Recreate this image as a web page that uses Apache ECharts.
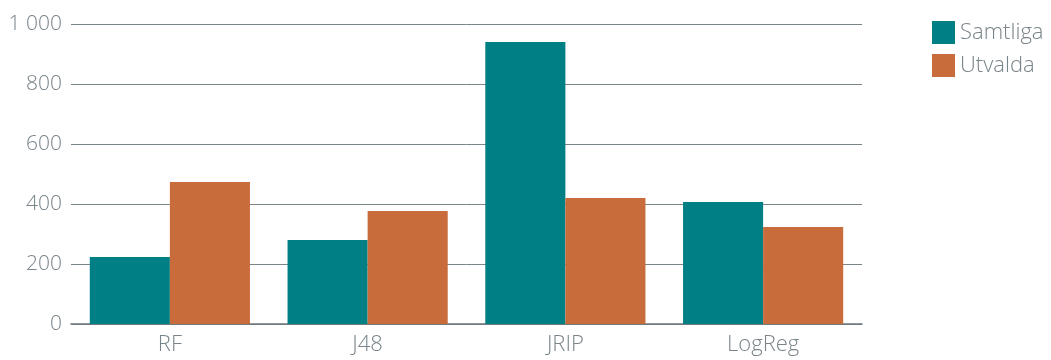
<!DOCTYPE html>
<html>
<head>
<meta charset="utf-8">
<script src="https://cdn.jsdelivr.net/npm/echarts@6/dist/echarts.min.js"></script>
<style>
  html, body { margin: 0; padding: 0; background: #fff; }
  #chart { width: 1051px; height: 360px; }
</style>
</head>
<body>
<div id="chart"></div>
<script>
const categories = ['RF', 'J48', 'JRIP', 'LogReg'];
const samtliga = [223, 280, 940, 407];
const utvalda = [473, 377, 420, 323];
const yTicks = [0, 200, 400, 600, 800, 1000];

const textColor = '#78848a';
const font = 'Open Sans';

const chart = echarts.init(document.getElementById('chart'));
chart.setOption({
  animation: false,
  textStyle: { fontFamily: font },
  grid: { left: 71, right: 189, top: 24, bottom: 36 },
  legend: {
    orient: 'vertical',
    left: 927,
    top: 16,
    itemWidth: 23,
    itemHeight: 23,
    itemGap: 10,
    icon: 'rect',
    textStyle: { color: textColor, fontSize: 22, fontFamily: font, fontWeight: 300, padding: [0, 0, 0, 0] },
    data: ['Samtliga', 'Utvalda']
  },
  xAxis: {
    type: 'category',
    data: categories,
    axisTick: { show: false },
    axisLine: { lineStyle: { color: '#6d777c', width: 1.5 } },
    axisLabel: { color: textColor, fontSize: 22, fontWeight: 300, margin: 10 }
  },
  yAxis: {
    type: 'value',
    min: yTicks[0],
    max: yTicks[yTicks.length - 1],
    interval: 200,
    axisLine: { show: false },
    axisTick: { show: false },
    splitLine: { lineStyle: { color: '#7a8489', width: 1 } },
    axisLabel: {
      color: textColor, fontSize: 21, fontWeight: 300, margin: 9,
      formatter: v => v >= 1000 ? String(v).replace(/\B(?=(\d{3})+(?!\d))/g, ' ') : String(v)
    }
  },
  series: [
    { name: 'Samtliga', type: 'bar', data: samtliga, barGap: '0%', barCategoryGap: '19%', itemStyle: { color: '#007f85' } },
    { name: 'Utvalda', type: 'bar', data: utvalda, itemStyle: { color: '#c96c3b' } }
  ]
});
</script>
</body>
</html>
